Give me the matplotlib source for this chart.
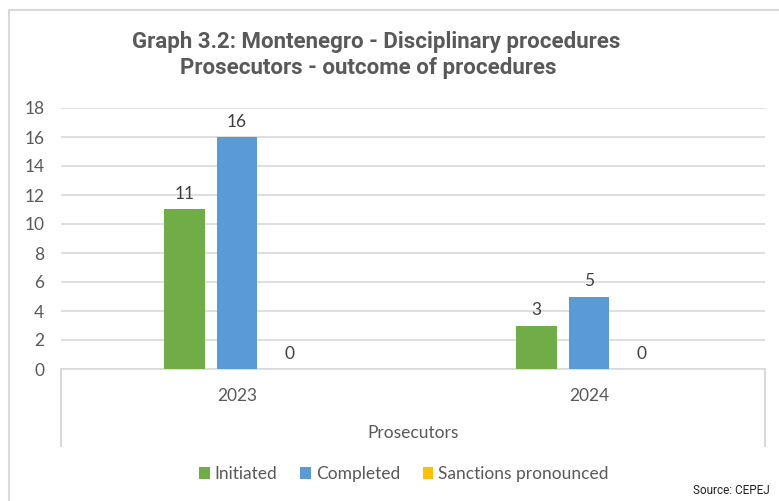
import matplotlib
matplotlib.use("Agg")
import matplotlib.pyplot as plt
from matplotlib.patches import Rectangle, Patch
from matplotlib.lines import Line2D
import numpy as np

years = ["2023", "2024"]
group_label = "Prosecutors"
series_names = ["Initiated", "Completed", "Sanctions pronounced"]
initiated = [11, 3]
completed = [16, 5]
sanctions = [0, 0]
colors = ["#70AD47", "#5B9BD5", "#FFC000"]
y_ticks = [0, 2, 4, 6, 8, 10, 12, 14, 16, 18]

W, H = 779, 501
fig = plt.figure(figsize=(W / 100, H / 100), dpi=100)
fig.patch.set_facecolor("white")

# outer border
fig.patches.append(Rectangle((9 / W, -0.1), 1.2, (H - 10) / H + 0.1, transform=fig.transFigure,
                             fill=False, edgecolor="#d9d9d9", linewidth=1.5))

left, right = 61 / W, 765 / W
bottom, top = (H - 369) / H, (H - 108) / H
ax = fig.add_axes([left, bottom, right - left, top - bottom])

x = np.arange(len(years)) + 0.5
step = 0.149
width = 0.114
all_series = [initiated, completed, sanctions]
tc = "#595959"
fs = 12.5
for i, (vals, c) in enumerate(zip(all_series, colors)):
    xs = x + (i - 1) * step
    ax.bar(xs, vals, width=width, color=c, zorder=3)
    for xi, v in zip(xs, vals):
        ax.text(xi, v + 0.5, str(v), ha="center", va="bottom", fontsize=fs,
                color="#404040", family="Lato", zorder=4)

ax.set_xlim(0, len(years))
ax.set_ylim(0, 18)
ax.set_yticks(y_ticks)
ax.set_yticklabels([str(t) for t in y_ticks], family="Lato", fontsize=fs, color=tc)
ax.tick_params(axis="y", length=0, pad=12)
ax.set_xticks([])
ax.yaxis.grid(True, color="#d9d9d9", linewidth=1.2, zorder=0)
for s in ["left", "right", "top"]:
    ax.spines[s].set_visible(False)
ax.spines["bottom"].set_color("#d9d9d9")
ax.spines["bottom"].set_linewidth(1.2)

# multi-level category axis
for xx in [left, right]:
    fig.add_artist(Line2D([xx, xx], [(H - 369) / H, (H - 446) / H], transform=fig.transFigure,
                          color="#d9d9d9", linewidth=1.5))
for xi, yr in zip(x, years):
    xf = left + (right - left) * xi / len(years)
    fig.text(xf, (H - 396) / H, yr, ha="center", va="center", fontsize=fs, color=tc, family="Lato")
fig.text((left + right) / 2, (H - 433) / H, group_label, ha="center", va="center",
         fontsize=fs, color=tc, family="Lato")

# title
fig.text(376 / W, (H - 42) / H, "Graph 3.2: Montenegro - Disciplinary procedures",
         ha="center", va="center", fontsize=16, fontweight="bold", color=tc, family="Roboto")
fig.text(368 / W, (H - 68) / H, "Prosecutors - outcome of procedures",
         ha="center", va="center", fontsize=16, fontweight="bold", color=tc, family="Roboto")

# legend
handles = [Patch(facecolor=c, edgecolor="none") for c in colors]
leg = fig.legend(handles, series_names, loc="center", bbox_to_anchor=(404 / W, (H - 474) / H),
                 ncol=3, frameon=False, prop={"family": "Lato", "size": fs},
                 handlelength=0.6, handleheight=0.75, handletextpad=0.3, columnspacing=1.3)
for t in leg.get_texts():
    t.set_color(tc)

fig.text(770 / W, (H - 490) / H, "Source: CEPEJ", ha="right", va="center", fontsize=8.5,
         color="#222222", family="Roboto")

fig.savefig("out.png", dpi=100)
